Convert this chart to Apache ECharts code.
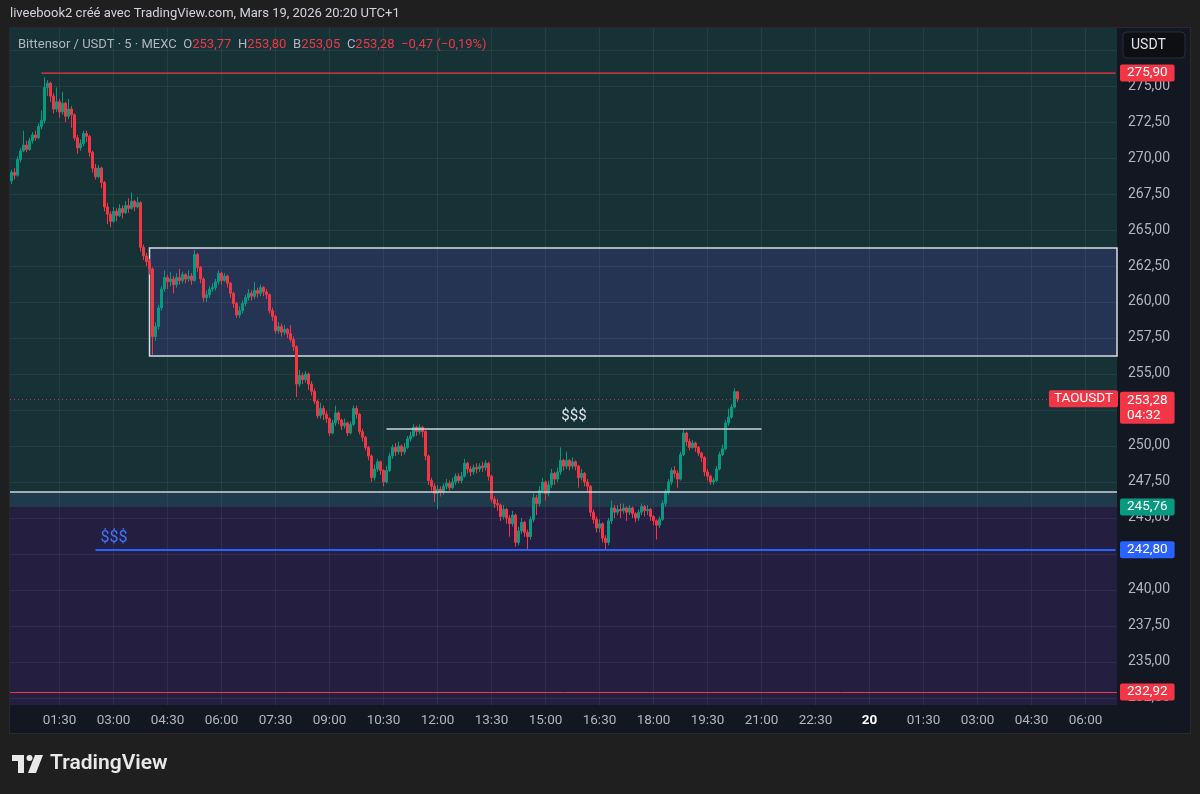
<!DOCTYPE html>
<html><head><meta charset="utf-8">
<script src="https://cdn.jsdelivr.net/npm/echarts@6/dist/echarts.min.js"></script>
<style>html,body{margin:0;padding:0;background:#1f1f1f;}#chart{width:1200px;height:794px;}</style>
</head><body><div id="chart"></div>
<script>
// ---- time slots (5-minute candles, minutes since Mar 19 00:00) ----
const firstMinute = 10;
const slotMinutes = 5;
const slotCount = 369;
const labelEveryMinutes = 90;

// ---- OHLC ----
const opens = [
268.4,269.0,268.8,269.9,270.5,270.9,270.6,271.2,271.6,271.4,
272.2,272.6,274.9,275.2,274.3,273.4,273.9,273.2,273.8,272.9,
273.4,273.0,271.4,270.7,271.0,271.7,271.5,270.4,269.3,268.7,
269.3,268.3,266.6,266.1,265.6,266.3,266.0,266.5,266.2,266.7,
266.5,267.0,266.6,266.9,263.8,263.2,262.8,262.3,257.6,258.3,
259.6,260.9,261.7,261.4,261.6,261.2,261.7,261.5,261.9,261.6,
261.8,261.5,263.3,262.4,261.6,260.3,260.5,260.9,261.0,261.4,
262.0,261.5,261.8,261.3,260.6,259.9,259.1,259.4,259.9,260.3,
260.6,260.4,260.8,260.6,261.0,260.7,260.5,259.4,259.0,258.0,
258.3,257.9,258.1,257.8,257.4,256.9,254.3,254.9,254.6,255.0,
254.3,253.8,253.1,252.1,252.6,252.2,251.9,250.9,251.6,252.3,
251.8,251.4,251.6,250.9,251.5,252.6,252.2,251.0,250.6,249.9,
249.3,247.8,248.4,248.9,248.3,247.5,248.3,249.3,249.9,249.6,
250.0,249.6,249.9,250.5,250.7,251.3,251.0,251.3,251.0,249.3,
247.6,247.2,246.7,247.0,246.8,247.2,247.4,247.1,247.5,247.9,
247.6,247.9,248.8,248.4,248.2,248.5,248.4,248.6,248.5,248.8,
247.9,246.3,246.0,245.9,245.1,245.6,245.0,244.6,245.2,243.3,
244.1,244.7,244.0,243.7,244.9,246.4,246.0,246.9,247.5,246.7,
247.3,248.1,247.7,248.2,249.0,248.6,249.0,248.6,248.9,248.6,
247.8,248.1,247.5,247.2,245.4,244.9,244.3,244.6,243.6,243.3,
244.8,245.7,245.4,245.6,245.5,245.7,245.4,245.7,245.3,245.0,
245.4,245.8,245.5,245.6,245.1,244.8,244.5,244.9,246.0,246.8,
247.5,248.3,248.1,247.7,249.4,250.9,250.3,249.9,250.2,249.9,
249.5,249.2,248.2,247.9,247.5,247.6,248.4,249.4,249.8,251.6,
252.0,252.7,253.77];
const closes = [
269.0,268.8,269.9,270.5,270.9,270.6,271.2,271.6,271.4,272.2,
272.6,274.9,275.2,274.3,273.4,273.9,273.2,273.8,272.9,273.4,
273.0,271.4,270.7,271.0,271.7,271.5,270.4,269.3,268.7,269.3,
268.3,266.6,266.1,265.6,266.3,266.0,266.5,266.2,266.7,266.5,
267.0,266.6,266.9,263.8,263.2,262.8,262.3,257.6,258.3,259.6,
260.9,261.7,261.4,261.6,261.2,261.7,261.5,261.9,261.6,261.8,
261.5,263.3,262.4,261.6,260.3,260.5,260.9,261.0,261.4,262.0,
261.5,261.8,261.3,260.6,259.9,259.1,259.4,259.9,260.3,260.6,
260.4,260.8,260.6,261.0,260.7,260.5,259.4,259.0,258.0,258.3,
257.9,258.1,257.8,257.4,256.9,254.3,254.9,254.6,255.0,254.3,
253.8,253.1,252.1,252.6,252.2,251.9,250.9,251.6,252.3,251.8,
251.4,251.6,250.9,251.5,252.6,252.2,251.0,250.6,249.9,249.3,
247.8,248.4,248.9,248.3,247.5,248.3,249.3,249.9,249.6,250.0,
249.6,249.9,250.5,250.7,251.3,251.0,251.3,251.0,249.3,247.6,
247.2,246.7,247.0,246.8,247.2,247.4,247.1,247.5,247.9,247.6,
247.9,248.8,248.4,248.2,248.5,248.4,248.6,248.5,248.8,247.9,
246.3,246.0,245.9,245.1,245.6,245.0,244.6,245.2,243.3,244.1,
244.7,244.0,243.7,244.9,246.4,246.0,246.9,247.5,246.7,247.3,
248.1,247.7,248.2,249.0,248.6,249.0,248.6,248.9,248.6,247.8,
248.1,247.5,247.2,245.4,244.9,244.3,244.6,243.6,243.3,244.8,
245.7,245.4,245.6,245.5,245.7,245.4,245.7,245.3,245.0,245.4,
245.8,245.5,245.6,245.1,244.8,244.5,244.9,246.0,246.8,247.5,
248.3,248.1,247.7,249.4,250.9,250.3,249.9,250.2,249.9,249.5,
249.2,248.2,247.9,247.5,247.6,248.4,249.4,249.8,251.6,252.0,
252.7,253.77,253.28];
const highs = [
269.2,269.3,270.1,270.7,271.9,271.2,271.4,271.8,271.9,272.4,
273.3,275.6,275.4,275.3,274.5,274.9,274.1,274.6,273.9,274.1,
273.6,273.1,271.6,271.3,271.9,271.9,271.6,270.5,269.6,269.5,
269.4,268.4,266.9,266.3,266.6,266.5,266.8,266.7,267.0,267.2,
267.6,267.1,267.3,267.0,264.0,263.4,263.0,262.4,258.6,259.8,
261.1,262.2,261.9,262.1,261.8,262.0,262.3,262.1,262.0,262.2,
262.0,263.6,263.4,262.5,261.7,260.8,261.1,261.3,261.6,262.2,
262.1,262.0,261.9,261.4,260.7,260.0,259.7,260.1,260.5,260.9,
260.8,261.4,261.0,261.2,261.1,260.9,260.6,259.6,259.1,258.6,
258.5,258.4,258.2,258.4,257.6,257.0,255.3,255.1,255.2,255.1,
254.5,254.0,253.2,253.0,252.8,252.4,252.0,251.8,252.8,252.4,
251.9,251.9,251.7,251.7,252.8,252.8,252.3,251.2,250.7,250.0,
249.4,248.7,249.1,249.0,248.4,248.6,249.5,250.1,250.2,250.3,
250.1,250.2,250.7,251.0,251.5,251.4,251.5,251.4,251.1,249.4,
247.8,247.4,247.3,247.2,247.4,247.7,247.6,247.8,248.1,248.1,
248.2,249.1,248.9,248.6,248.7,248.8,248.8,248.9,249.0,248.9,
248.0,246.5,246.3,246.0,245.9,245.7,245.2,245.5,245.3,244.4,
245.0,244.8,244.2,245.1,246.7,246.6,247.2,247.8,247.6,247.6,
248.4,248.2,248.5,249.9,249.1,249.6,249.1,249.2,249.0,248.7,
248.4,248.2,247.7,247.3,245.6,245.1,244.9,244.7,243.8,245.0,
246.2,245.9,245.9,246.0,246.0,245.8,245.9,245.8,245.4,245.6,
246.0,245.9,245.9,245.7,245.2,244.9,245.1,246.2,247.0,247.7,
248.5,248.6,248.3,249.6,251.2,251.0,250.5,250.4,250.3,250.0,
249.6,249.3,248.4,248.0,247.8,248.6,249.6,250.1,251.8,252.6,
252.9,254.0,253.80];
const lows = [
268.2,268.5,268.7,269.7,270.4,270.4,270.5,271.0,271.2,271.3,
272.0,272.4,274.3,273.9,273.1,273.2,272.8,273.0,272.5,272.7,
272.1,271.2,270.3,270.5,270.8,271.1,270.1,269.0,268.5,268.6,
267.9,266.3,265.4,265.2,265.5,265.6,265.9,265.8,266.1,266.2,
266.4,266.3,266.5,263.5,262.9,262.5,261.9,256.3,257.3,258.1,
259.4,260.7,260.9,261.1,260.6,261.0,261.2,261.3,261.3,261.4,
261.2,261.4,262.1,261.3,260.0,260.0,260.3,260.7,260.8,261.2,
261.2,261.4,261.0,260.3,259.6,258.9,258.9,259.2,259.7,260.1,
260.1,260.2,260.3,260.4,260.4,260.2,259.2,258.7,257.8,257.8,
257.6,257.7,257.5,257.2,256.6,253.4,254.1,254.3,254.4,253.9,
253.5,252.9,251.9,251.9,251.8,251.6,250.7,250.8,251.4,251.5,
251.1,251.2,250.7,250.8,251.4,251.9,250.8,250.3,249.7,249.0,
247.5,247.6,248.2,248.0,247.2,247.4,248.2,249.1,249.3,249.4,
249.3,249.4,249.8,250.3,250.6,250.7,250.8,250.6,249.0,247.3,
246.9,246.1,245.6,246.5,246.6,247.0,246.9,247.0,247.3,247.4,
247.4,247.8,248.1,247.9,248.0,248.1,248.2,248.2,248.3,247.6,
246.1,245.7,245.5,244.8,244.9,244.6,243.7,244.4,243.0,243.1,
243.9,243.7,242.8,243.5,244.7,245.2,245.8,246.7,246.2,246.5,
247.1,247.3,247.5,248.0,248.3,248.4,248.3,248.4,248.3,247.1,
247.6,247.2,246.8,245.1,244.6,244.0,244.0,243.3,242.8,243.1,
244.6,245.0,245.2,245.0,245.3,244.8,245.2,245.0,244.7,244.8,
245.2,245.1,245.2,244.8,244.5,243.5,244.3,244.8,245.8,246.6,
247.3,247.8,247.1,247.6,249.3,250.0,249.7,249.8,249.6,249.3,
248.9,247.9,247.6,247.3,247.3,247.5,248.3,249.3,249.7,251.4,
251.9,252.6,253.05];

// ---- price axis ticks and range ----
const yTicks = [232.5,235,237.5,240,242.5,245,247.5,250,252.5,255,257.5,260,262.5,265,267.5,270,272.5,275,277.5];
const yMin = 232.01, yMax = 279.03;

// ---- drawn levels / zones ----
const highLine = 275.90, highLineStart = 10;      // slot index
const lowLine = 232.92;
const liqLow = 242.80, liqLowStart = 28;
const liqHigh = 251.18, liqHighStart = 125, liqHighEnd = 250;
const zoneTop = 263.75, zoneBottom = 256.25, zoneStart = 46;
const bandTop = 246.81, bandBottom = 245.76;
const lastPrice = 253.28, countdown = '04:32';

const UP = '#089981', DOWN = '#f23645', BLUE = '#2962ff';
const FONT = 'Roboto, "Noto Sans", sans-serif';

const categories = Array.from({length: slotCount}, (_, i) => String(firstMinute + i * slotMinutes));
const candleData = opens.map((o, i) => [o, closes[i], lows[i], highs[i]]);
const fmtPrice = v => v.toFixed(2).replace('.', ',');
const pad = n => (n < 10 ? '0' : '') + n;
const isTick = (idx, val) => (+val) % labelEveryMinutes === 0;
const lastSlot = slotCount - 1;

function priceTag(bg, text, offsetY) {
  return { show: true, position: 'end', distance: 3, formatter: text, color: '#ffffff', offset: [0, offsetY || 0],
    backgroundColor: bg, padding: [1, 7, 1, 7], borderRadius: 2, fontSize: 13.5, fontFamily: FONT, lineHeight: 15 };
}
const invisible = { color: 'rgba(0,0,0,0)', width: 0, opacity: 1 };

const chart = echarts.init(document.getElementById('chart'));
chart.setOption({
  backgroundColor: '#1f1f1f',
  animation: false,
  grid: { left: 10, right: 83, top: 28, bottom: 89, containLabel: false, outerBoundsMode: 'none' },
  xAxis: {
    type: 'category', data: categories, boundaryGap: true, z: 1.5,
    axisLine: { show: false }, axisTick: { show: false },
    axisLabel: {
      interval: isTick, margin: 9, color: '#b2b5be', fontSize: 13.5, fontFamily: FONT,
      formatter: v => { const m = +v; if (m === 1440) return '{b|20}'; const mm = m % 1440; return pad(Math.floor(mm / 60)) + ':' + pad(mm % 60); },
      rich: { b: { fontWeight: 'bold', color: '#ffffff', fontSize: 13.5, fontFamily: FONT } }
    },
    splitLine: { show: true, interval: isTick, alignWithLabel: true, lineStyle: { color: 'rgba(255,255,255,0.06)', width: 1 } }
  },
  yAxis: {
    type: 'value', position: 'right', min: yMin, max: yMax, scale: true, z: 1.5,
    axisLine: { show: false },
    axisTick: { show: false, customValues: yTicks },
    axisLabel: { customValues: yTicks, margin: 11, color: '#b2b5be', fontSize: 14, fontFamily: FONT, formatter: v => fmtPrice(v) },
    splitLine: { show: true, lineStyle: { color: 'rgba(255,255,255,0.06)', width: 1 } }
  },
  graphic: [
    { type: 'rect', z: 0, shape: { x: 1117, y: 28, width: 73, height: 705 }, style: { fill: '#131722' } },
    { type: 'rect', z: 0, shape: { x: 10, y: 705, width: 1180, height: 28 }, style: { fill: '#131722' } },
    { type: 'rect', z: 0, shape: { x: 9.5, y: 27.5, width: 1181, height: 706 }, style: { fill: 'none', stroke: '#2a2a2e', lineWidth: 1 } },
    { type: 'text', z: 10, x: 10, y: 14, style: { text: 'liveebook2 créé avec TradingView.com, Mars 19, 2026 20:20 UTC+1', fill: '#d1d4dc', font: '13px ' + FONT, verticalAlign: 'middle' } },
    { type: 'text', z: 10, x: 18, y: 45, style: {
        text: '{g|Bittensor / USDT · 5 · MEXC}  {g|O}{r|253,77}  {g|H}{r|253,80}  {g|B}{r|253,05}  {g|C}{r|253,28}  {r|−0,47 (−0,19%)}',
        verticalAlign: 'middle',
        rich: { g: { fill: '#b2b5be', font: '13px ' + FONT }, r: { fill: DOWN, font: '13px ' + FONT } } } },
    { type: 'rect', z: 10, shape: { x: 1123, y: 32, width: 62, height: 26, r: 4 }, style: { fill: '#0e0f13', stroke: '#2a2e39', lineWidth: 1 } },
    { type: 'text', z: 11, x: 1131, y: 45, style: { text: 'USDT', fill: '#e0e3eb', font: '14px ' + FONT, verticalAlign: 'middle' } },
    { type: 'polygon', z: 10, shape: { points: [[12,755],[24,755],[24,773],[18,773],[18,761],[12,761]] }, style: { fill: '#e8e8e8' } },
    { type: 'circle', z: 10, shape: { cx: 29.5, cy: 758, r: 3 }, style: { fill: '#e8e8e8' } },
    { type: 'polygon', z: 10, shape: { points: [[35,755],[43,755],[36,773],[28,773]] }, style: { fill: '#e8e8e8' } },
    { type: 'text', z: 10, x: 50, y: 764, style: { text: 'TradingView', fill: '#e8e8e8', font: '600 21px ' + FONT, verticalAlign: 'middle' } }
  ],
  series: [{
    type: 'candlestick', data: candleData, z: 3, barWidth: 2.6,
    itemStyle: { color: UP, color0: DOWN, borderColor: UP, borderColor0: DOWN, borderWidth: 1 },
    markArea: {
      silent: true, z: 1,
      data: [
        [{ yAxis: bandTop, itemStyle: { color: '#173236' } }, {}],
        [{ yAxis: bandBottom, itemStyle: { color: '#1f3a4b' } }, { yAxis: bandTop }],
        [{ itemStyle: { color: '#241f40' } }, { yAxis: bandBottom }],
        [{ xAxis: zoneStart, yAxis: zoneTop, itemStyle: { color: '#263454', borderColor: '#d8dbe2', borderWidth: 1.5 } }, { yAxis: zoneBottom }]
      ]
    },
    markLine: {
      silent: true, symbol: ['none', 'none'], z: 5,
      data: [
        { yAxis: bandTop, lineStyle: { color: '#d1d4dc', width: 1.5, type: 'solid' }, label: { show: false } },
        { yAxis: bandBottom, lineStyle: invisible, label: priceTag(UP, fmtPrice(bandBottom)) },
        { yAxis: highLine, lineStyle: invisible, label: priceTag(DOWN, fmtPrice(highLine)) },
        { yAxis: lowLine, lineStyle: { color: DOWN, width: 1, type: 'solid' }, label: priceTag(DOWN, fmtPrice(lowLine)) },
        [{ xAxis: liqLowStart, yAxis: liqLow, lineStyle: { color: BLUE, width: 2, type: 'solid' },
           label: { show: true, position: 'insideStartTop', distance: [5, 4], formatter: '$$$', color: '#3f74ff', fontSize: 16, fontFamily: FONT } },
         { xAxis: lastSlot, yAxis: liqLow }],
        { yAxis: liqLow, lineStyle: invisible, label: priceTag(BLUE, fmtPrice(liqLow)) },
        [{ xAxis: liqHighStart, yAxis: liqHigh, lineStyle: { color: '#d1d4dc', width: 1.5, type: 'solid' },
           label: { show: true, position: 'insideMiddleTop', distance: 5, formatter: '$$$', color: '#e0e3eb', fontSize: 15, fontFamily: FONT } },
         { xAxis: liqHighEnd, yAxis: liqHigh }],
        { yAxis: lastPrice, lineStyle: { color: 'rgba(242,54,69,0.7)', width: 1, type: [1, 3] }, label: priceTag(DOWN, fmtPrice(lastPrice) + '\n' + countdown, 9) },
        { yAxis: lastPrice, lineStyle: invisible, label: { show: true, position: 'insideEndTop', distance: [-1, 0], verticalAlign: 'middle',
            formatter: 'TAOUSDT', color: '#ffffff', backgroundColor: DOWN, padding: [1, 5, 1, 5], borderRadius: 2, fontSize: 13.5, fontFamily: FONT, lineHeight: 15 } }
      ]
    }
  }, {
    type: 'line', name: 'high level', z: 4, silent: true, symbol: 'none', animation: false,
    data: [[highLineStart, highLine], [lastSlot, highLine]],
    lineStyle: { color: DOWN, width: 1.2 }
  }]
});
</script></body></html>
